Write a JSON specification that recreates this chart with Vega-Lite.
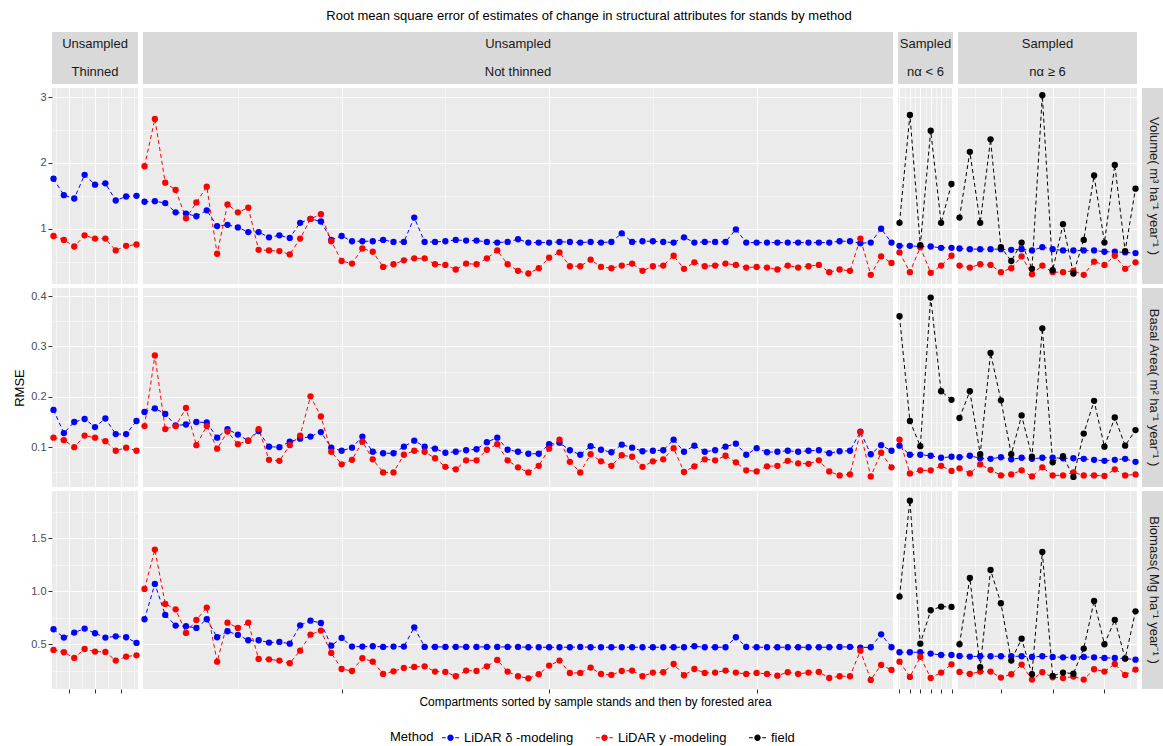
{
"$schema":"https://vega.github.io/schema/vega-lite/v6.json",
"padding":{"left":13,"top":10,"right":0,"bottom":0},
"title":{"text":"Root mean square error of estimates of change in structural attributes for stands by method","anchor":"middle","fontSize":13,"fontWeight":"normal","offset":9,"color":"#000000"},
"datasets":{
"VT":[{"i":1,"d":1.76,"y":0.89},{"i":2,"d":1.51,"y":0.83},{"i":3,"d":1.46,"y":0.73},{"i":4,"d":1.82,"y":0.90},{"i":5,"d":1.67,"y":0.85},{"i":6,"d":1.69,"y":0.85},{"i":7,"d":1.43,"y":0.67},{"i":8,"d":1.49,"y":0.74},{"i":9,"d":1.50,"y":0.76}],
"VN":[{"i":1,"d":1.41,"y":1.95},{"i":2,"d":1.42,"y":2.67},{"i":3,"d":1.39,"y":1.70},{"i":4,"d":1.25,"y":1.59},{"i":5,"d":1.23,"y":1.16},{"i":6,"d":1.19,"y":1.40},{"i":7,"d":1.28,"y":1.64},{"i":8,"d":1.04,"y":0.62},{"i":9,"d":1.06,"y":1.37},{"i":10,"d":1.02,"y":1.25},{"i":11,"d":0.95,"y":1.32},{"i":12,"d":0.95,"y":0.68},{"i":13,"d":0.87,"y":0.67},{"i":14,"d":0.90,"y":0.66},{"i":15,"d":0.86,"y":0.61},{"i":16,"d":1.09,"y":0.85},{"i":17,"d":1.15,"y":1.15},{"i":18,"d":1.11,"y":1.22},{"i":19,"d":0.83,"y":0.81},{"i":20,"d":0.89,"y":0.51},{"i":21,"d":0.81,"y":0.47},{"i":22,"d":0.81,"y":0.70},{"i":23,"d":0.81,"y":0.65},{"i":24,"d":0.83,"y":0.42},{"i":25,"d":0.80,"y":0.46},{"i":26,"d":0.80,"y":0.52},{"i":27,"d":1.17,"y":0.55},{"i":28,"d":0.80,"y":0.55},{"i":29,"d":0.80,"y":0.46},{"i":30,"d":0.81,"y":0.45},{"i":31,"d":0.83,"y":0.38},{"i":32,"d":0.82,"y":0.47},{"i":33,"d":0.82,"y":0.46},{"i":34,"d":0.80,"y":0.55},{"i":35,"d":0.79,"y":0.67},{"i":36,"d":0.80,"y":0.46},{"i":37,"d":0.84,"y":0.36},{"i":38,"d":0.79,"y":0.32},{"i":39,"d":0.79,"y":0.40},{"i":40,"d":0.79,"y":0.56},{"i":41,"d":0.80,"y":0.64},{"i":42,"d":0.80,"y":0.43},{"i":43,"d":0.79,"y":0.43},{"i":44,"d":0.80,"y":0.53},{"i":45,"d":0.79,"y":0.42},{"i":46,"d":0.80,"y":0.40},{"i":47,"d":0.93,"y":0.44},{"i":48,"d":0.80,"y":0.47},{"i":49,"d":0.81,"y":0.36},{"i":50,"d":0.81,"y":0.43},{"i":51,"d":0.80,"y":0.44},{"i":52,"d":0.79,"y":0.59},{"i":53,"d":0.87,"y":0.39},{"i":54,"d":0.79,"y":0.49},{"i":55,"d":0.80,"y":0.43},{"i":56,"d":0.80,"y":0.44},{"i":57,"d":0.80,"y":0.47},{"i":58,"d":0.99,"y":0.45},{"i":59,"d":0.79,"y":0.41},{"i":60,"d":0.79,"y":0.42},{"i":61,"d":0.79,"y":0.41},{"i":62,"d":0.79,"y":0.38},{"i":63,"d":0.79,"y":0.44},{"i":64,"d":0.79,"y":0.41},{"i":65,"d":0.79,"y":0.43},{"i":66,"d":0.79,"y":0.45},{"i":67,"d":0.79,"y":0.34},{"i":68,"d":0.81,"y":0.38},{"i":69,"d":0.81,"y":0.36},{"i":70,"d":0.78,"y":0.85},{"i":71,"d":0.79,"y":0.30},{"i":72,"d":1.00,"y":0.58},{"i":73,"d":0.79,"y":0.48}],
"VS":[{"i":1,"d":0.74,"y":0.64,"f":1.09},{"i":2,"d":0.74,"y":0.34,"f":2.73},{"i":3,"d":0.73,"y":0.72,"f":0.75},{"i":4,"d":0.73,"y":0.33,"f":2.49},{"i":5,"d":0.71,"y":0.44,"f":1.09},{"i":6,"d":0.71,"y":0.59,"f":1.68}],
"VL":[{"i":1,"d":0.70,"y":0.44,"f":1.17},{"i":2,"d":0.69,"y":0.41,"f":2.17},{"i":3,"d":0.69,"y":0.46,"f":1.09},{"i":4,"d":0.69,"y":0.45,"f":2.36},{"i":5,"d":0.69,"y":0.34,"f":0.72},{"i":6,"d":0.68,"y":0.40,"f":0.51},{"i":7,"d":0.69,"y":0.58,"f":0.79},{"i":8,"d":0.67,"y":0.31,"f":0.39},{"i":9,"d":0.72,"y":0.44,"f":3.03},{"i":10,"d":0.69,"y":0.34,"f":0.37},{"i":11,"d":0.67,"y":0.34,"f":1.07},{"i":12,"d":0.67,"y":0.36,"f":0.32},{"i":13,"d":0.67,"y":0.30,"f":0.83},{"i":14,"d":0.67,"y":0.50,"f":1.81},{"i":15,"d":0.65,"y":0.45,"f":0.79},{"i":16,"d":0.65,"y":0.59,"f":1.97},{"i":17,"d":0.64,"y":0.39,"f":0.66},{"i":18,"d":0.63,"y":0.49,"f":1.61}],
"BT":[{"i":1,"d":0.174,"y":0.119},{"i":2,"d":0.128,"y":0.114},{"i":3,"d":0.150,"y":0.100},{"i":4,"d":0.156,"y":0.123},{"i":5,"d":0.140,"y":0.119},{"i":6,"d":0.157,"y":0.112},{"i":7,"d":0.126,"y":0.093},{"i":8,"d":0.126,"y":0.099},{"i":9,"d":0.152,"y":0.093}],
"BN":[{"i":1,"d":0.170,"y":0.142},{"i":2,"d":0.177,"y":0.282},{"i":3,"d":0.166,"y":0.136},{"i":4,"d":0.143,"y":0.142},{"i":5,"d":0.145,"y":0.178},{"i":6,"d":0.150,"y":0.104},{"i":7,"d":0.149,"y":0.142},{"i":8,"d":0.119,"y":0.097},{"i":9,"d":0.136,"y":0.131},{"i":10,"d":0.125,"y":0.106},{"i":11,"d":0.113,"y":0.113},{"i":12,"d":0.132,"y":0.136},{"i":13,"d":0.101,"y":0.075},{"i":14,"d":0.100,"y":0.073},{"i":15,"d":0.111,"y":0.104},{"i":16,"d":0.117,"y":0.123},{"i":17,"d":0.121,"y":0.201},{"i":18,"d":0.130,"y":0.161},{"i":19,"d":0.099,"y":0.091},{"i":20,"d":0.093,"y":0.066},{"i":21,"d":0.099,"y":0.075},{"i":22,"d":0.121,"y":0.111},{"i":23,"d":0.091,"y":0.076},{"i":24,"d":0.088,"y":0.050},{"i":25,"d":0.088,"y":0.050},{"i":26,"d":0.101,"y":0.085},{"i":27,"d":0.113,"y":0.093},{"i":28,"d":0.101,"y":0.091},{"i":29,"d":0.097,"y":0.078},{"i":30,"d":0.089,"y":0.061},{"i":31,"d":0.091,"y":0.056},{"i":32,"d":0.094,"y":0.074},{"i":33,"d":0.096,"y":0.074},{"i":34,"d":0.110,"y":0.095},{"i":35,"d":0.119,"y":0.106},{"i":36,"d":0.095,"y":0.074},{"i":37,"d":0.091,"y":0.060},{"i":38,"d":0.087,"y":0.050},{"i":39,"d":0.087,"y":0.063},{"i":40,"d":0.106,"y":0.097},{"i":41,"d":0.109,"y":0.115},{"i":42,"d":0.094,"y":0.071},{"i":43,"d":0.085,"y":0.050},{"i":44,"d":0.102,"y":0.086},{"i":45,"d":0.095,"y":0.072},{"i":46,"d":0.090,"y":0.063},{"i":47,"d":0.105,"y":0.084},{"i":48,"d":0.099,"y":0.081},{"i":49,"d":0.092,"y":0.061},{"i":50,"d":0.093,"y":0.072},{"i":51,"d":0.094,"y":0.076},{"i":52,"d":0.115,"y":0.098},{"i":53,"d":0.091,"y":0.051},{"i":54,"d":0.103,"y":0.062},{"i":55,"d":0.091,"y":0.076},{"i":56,"d":0.094,"y":0.074},{"i":57,"d":0.101,"y":0.083},{"i":58,"d":0.107,"y":0.070},{"i":59,"d":0.085,"y":0.054},{"i":60,"d":0.098,"y":0.052},{"i":61,"d":0.090,"y":0.062},{"i":62,"d":0.091,"y":0.063},{"i":63,"d":0.093,"y":0.073},{"i":64,"d":0.091,"y":0.068},{"i":65,"d":0.093,"y":0.067},{"i":66,"d":0.094,"y":0.074},{"i":67,"d":0.088,"y":0.052},{"i":68,"d":0.092,"y":0.044},{"i":69,"d":0.093,"y":0.046},{"i":70,"d":0.131,"y":0.130},{"i":71,"d":0.086,"y":0.042},{"i":72,"d":0.104,"y":0.089},{"i":73,"d":0.093,"y":0.060}],
"BS":[{"i":1,"d":0.103,"y":0.115,"f":0.360},{"i":2,"d":0.085,"y":0.048,"f":0.152},{"i":3,"d":0.085,"y":0.054,"f":0.102},{"i":4,"d":0.083,"y":0.054,"f":0.397},{"i":5,"d":0.079,"y":0.063,"f":0.211},{"i":6,"d":0.081,"y":0.053,"f":0.194}],
"BL":[{"i":1,"d":0.080,"y":0.058,"f":0.158},{"i":2,"d":0.083,"y":0.048,"f":0.211},{"i":3,"d":0.078,"y":0.066,"f":0.086},{"i":4,"d":0.077,"y":0.055,"f":0.287},{"i":5,"d":0.080,"y":0.044,"f":0.193},{"i":6,"d":0.076,"y":0.046,"f":0.086},{"i":7,"d":0.079,"y":0.054,"f":0.163},{"i":8,"d":0.077,"y":0.042,"f":0.081},{"i":9,"d":0.079,"y":0.060,"f":0.336},{"i":10,"d":0.079,"y":0.044,"f":0.070},{"i":11,"d":0.078,"y":0.044,"f":0.082},{"i":12,"d":0.078,"y":0.050,"f":0.041},{"i":13,"d":0.077,"y":0.044,"f":0.127},{"i":14,"d":0.075,"y":0.044,"f":0.192},{"i":15,"d":0.073,"y":0.043,"f":0.101},{"i":16,"d":0.075,"y":0.056,"f":0.159},{"i":17,"d":0.077,"y":0.044,"f":0.103},{"i":18,"d":0.071,"y":0.046,"f":0.134}],
"MT":[{"i":1,"d":0.642,"y":0.447},{"i":2,"d":0.563,"y":0.425},{"i":3,"d":0.610,"y":0.371},{"i":4,"d":0.648,"y":0.456},{"i":5,"d":0.604,"y":0.431},{"i":6,"d":0.563,"y":0.428},{"i":7,"d":0.575,"y":0.346},{"i":8,"d":0.566,"y":0.384},{"i":9,"d":0.513,"y":0.396}],
"MN":[{"i":1,"d":0.736,"y":1.022},{"i":2,"d":1.069,"y":1.393},{"i":3,"d":0.777,"y":0.881},{"i":4,"d":0.676,"y":0.830},{"i":5,"d":0.670,"y":0.607},{"i":6,"d":0.654,"y":0.730},{"i":7,"d":0.736,"y":0.846},{"i":8,"d":0.566,"y":0.336},{"i":9,"d":0.623,"y":0.704},{"i":10,"d":0.588,"y":0.654},{"i":11,"d":0.538,"y":0.704},{"i":12,"d":0.538,"y":0.362},{"i":13,"d":0.516,"y":0.358},{"i":14,"d":0.522,"y":0.346},{"i":15,"d":0.506,"y":0.321},{"i":16,"d":0.679,"y":0.440},{"i":17,"d":0.723,"y":0.591},{"i":18,"d":0.701,"y":0.629},{"i":19,"d":0.487,"y":0.418},{"i":20,"d":0.560,"y":0.267},{"i":21,"d":0.478,"y":0.248},{"i":22,"d":0.478,"y":0.368},{"i":23,"d":0.481,"y":0.336},{"i":24,"d":0.475,"y":0.220},{"i":25,"d":0.478,"y":0.245},{"i":26,"d":0.478,"y":0.277},{"i":27,"d":0.660,"y":0.286},{"i":28,"d":0.475,"y":0.292},{"i":29,"d":0.475,"y":0.242},{"i":30,"d":0.475,"y":0.239},{"i":31,"d":0.475,"y":0.198},{"i":32,"d":0.475,"y":0.252},{"i":33,"d":0.475,"y":0.248},{"i":34,"d":0.475,"y":0.292},{"i":35,"d":0.475,"y":0.352},{"i":36,"d":0.475,"y":0.242},{"i":37,"d":0.475,"y":0.198},{"i":38,"d":0.472,"y":0.179},{"i":39,"d":0.472,"y":0.217},{"i":40,"d":0.472,"y":0.299},{"i":41,"d":0.472,"y":0.346},{"i":42,"d":0.472,"y":0.230},{"i":43,"d":0.475,"y":0.230},{"i":44,"d":0.472,"y":0.280},{"i":45,"d":0.472,"y":0.220},{"i":46,"d":0.472,"y":0.211},{"i":47,"d":0.472,"y":0.248},{"i":48,"d":0.472,"y":0.252},{"i":49,"d":0.472,"y":0.198},{"i":50,"d":0.472,"y":0.233},{"i":51,"d":0.472,"y":0.236},{"i":52,"d":0.472,"y":0.314},{"i":53,"d":0.472,"y":0.208},{"i":54,"d":0.481,"y":0.267},{"i":55,"d":0.472,"y":0.230},{"i":56,"d":0.472,"y":0.233},{"i":57,"d":0.472,"y":0.252},{"i":58,"d":0.566,"y":0.233},{"i":59,"d":0.475,"y":0.220},{"i":60,"d":0.472,"y":0.230},{"i":61,"d":0.472,"y":0.220},{"i":62,"d":0.472,"y":0.204},{"i":63,"d":0.472,"y":0.236},{"i":64,"d":0.472,"y":0.220},{"i":65,"d":0.472,"y":0.233},{"i":66,"d":0.472,"y":0.239},{"i":67,"d":0.472,"y":0.182},{"i":68,"d":0.475,"y":0.198},{"i":69,"d":0.475,"y":0.198},{"i":70,"d":0.469,"y":0.440},{"i":71,"d":0.472,"y":0.164},{"i":72,"d":0.594,"y":0.305},{"i":73,"d":0.472,"y":0.258}],
"MS":[{"i":1,"d":0.425,"y":0.336,"f":0.950},{"i":2,"d":0.425,"y":0.192,"f":1.855},{"i":3,"d":0.425,"y":0.381,"f":0.506},{"i":4,"d":0.412,"y":0.182,"f":0.821},{"i":5,"d":0.399,"y":0.233,"f":0.855},{"i":6,"d":0.399,"y":0.311,"f":0.852}],
"ML":[{"i":1,"d":0.390,"y":0.239,"f":0.500},{"i":2,"d":0.384,"y":0.220,"f":1.126},{"i":3,"d":0.387,"y":0.242,"f":0.283},{"i":4,"d":0.387,"y":0.242,"f":1.201},{"i":5,"d":0.387,"y":0.186,"f":0.887},{"i":6,"d":0.387,"y":0.217,"f":0.346},{"i":7,"d":0.387,"y":0.308,"f":0.553},{"i":8,"d":0.381,"y":0.167,"f":0.217},{"i":9,"d":0.387,"y":0.236,"f":1.371},{"i":10,"d":0.381,"y":0.189,"f":0.201},{"i":11,"d":0.377,"y":0.182,"f":0.233},{"i":12,"d":0.377,"y":0.195,"f":0.223},{"i":13,"d":0.381,"y":0.167,"f":0.459},{"i":14,"d":0.377,"y":0.264,"f":0.909},{"i":15,"d":0.371,"y":0.242,"f":0.500},{"i":16,"d":0.371,"y":0.314,"f":0.730},{"i":17,"d":0.365,"y":0.211,"f":0.365},{"i":18,"d":0.355,"y":0.261,"f":0.811}]
},
"spacing":4,
"resolve":{"scale":{"x":"independent","y":"independent","color":"shared"}},
"vconcat":[
{"spacing":5,"bounds":"flush","hconcat":[
{"width":86,"height":52,"view":{"fill":"#d9d9d9","stroke":null},"data":{"values":[{"t":"Unsampled\nThinned"}]},"mark":{"type":"text","lineBreak":"\n","lineHeight":28,"dy":-14,"fontSize":13,"color":"#1a1a1a"},"encoding":{"text":{"field":"t"}}},
{"width":750,"height":52,"view":{"fill":"#d9d9d9","stroke":null},"data":{"values":[{"t":"Unsampled\nNot thinned"}]},"mark":{"type":"text","lineBreak":"\n","lineHeight":28,"dy":-14,"fontSize":13,"color":"#1a1a1a"},"encoding":{"text":{"field":"t"}}},
{"width":55,"height":52,"view":{"fill":"#d9d9d9","stroke":null},"data":{"values":[{"t":"Sampled\nnα < 6"}]},"mark":{"type":"text","lineBreak":"\n","lineHeight":28,"dy":-14,"fontSize":13,"color":"#1a1a1a"},"encoding":{"text":{"field":"t"}}},
{"width":179,"height":52,"view":{"fill":"#d9d9d9","stroke":null},"data":{"values":[{"t":"Sampled\nnα ≥ 6"}]},"mark":{"type":"text","lineBreak":"\n","lineHeight":28,"dy":-14,"fontSize":13,"color":"#1a1a1a"},"encoding":{"text":{"field":"t"}}}
]},
{"spacing":5,"bounds":"flush","resolve":{"scale":{"x":"independent","y":"independent","color":"shared"}},"hconcat":[
{"width":86,"height":196,"data":{"name":"VT"},"transform":[{"fold":["d","y","f"],"as":["m","v"]},{"filter":"isValid(datum.v)"}],
"encoding":{"x":{"field":"i","type":"quantitative","scale":{"domain":[1,9],"nice":false,"zero":false,"padding":1.5},"axis":{"values":[1.25,2.5,3.75,5,6.25,7.5,8.75],"labels":false,"ticks":false,"title":null,"grid":true,"gridWidth":{"condition":{"test":"datum.value % 2.5 == 0","value":1.1},"value":0.5}}},
"y":{"field":"v","type":"quantitative","scale":{"domain":[0.16,3.14],"nice":false,"zero":false},"axis":{"values":[0.5,1,1.5,2,2.5,3],"labelExpr":"datum.value % 1 == 0 ? format(datum.value, 'd') : ''","title":null,"grid":true,"minExtent":22,"maxExtent":22,"labelPadding":2,"gridWidth":{"condition":{"test":"datum.value % 1 == 0","value":1.1},"value":0.5},"tickOpacity":{"condition":{"test":"datum.value % 1 == 0","value":1},"value":0}}},
"color":{"field":"m","type":"nominal","scale":{"domain":["d","y","f"],"range":["#0000ff","#ff0000","#000000"]},"legend":{"title":"Method","labelExpr":"datum.label == 'd' ? 'LiDAR δ -modeling' : datum.label == 'y' ? 'LiDAR y -modeling' : 'field'"}}},
"layer":[{"mark":{"type":"line","strokeDash":[4,3],"strokeWidth":1}},{"mark":{"type":"point","filled":true,"size":40,"opacity":1}}]},
{"width":750,"height":196,"data":{"name":"VN"},"transform":[{"fold":["d","y","f"],"as":["m","v"]},{"filter":"isValid(datum.v)"}],
"encoding":{"x":{"field":"i","type":"quantitative","scale":{"domain":[1,73],"nice":false,"zero":false,"padding":1.5},"axis":{"values":[10,20,30,40,50,60,70],"labels":false,"ticks":false,"title":null,"grid":true,"gridWidth":{"condition":{"test":"datum.value % 20 == 0","value":1.1},"value":0.5}}},
"y":{"field":"v","type":"quantitative","scale":{"domain":[0.16,3.14],"nice":false,"zero":false},"axis":{"values":[0.5,1,1.5,2,2.5,3],"labels":false,"ticks":false,"title":null,"grid":true,"minExtent":0,"maxExtent":0,"gridWidth":{"condition":{"test":"datum.value % 1 == 0","value":1.1},"value":0.5}}},
"color":{"field":"m","type":"nominal","scale":{"domain":["d","y","f"],"range":["#0000ff","#ff0000","#000000"]},"legend":{"title":"Method","labelExpr":"datum.label == 'd' ? 'LiDAR δ -modeling' : datum.label == 'y' ? 'LiDAR y -modeling' : 'field'"}}},
"layer":[{"mark":{"type":"line","strokeDash":[4,3],"strokeWidth":1}},{"mark":{"type":"point","filled":true,"size":40,"opacity":1}}]},
{"width":55,"height":196,"data":{"name":"VS"},"transform":[{"fold":["d","y","f"],"as":["m","v"]},{"filter":"isValid(datum.v)"}],
"encoding":{"x":{"field":"i","type":"quantitative","scale":{"domain":[1,6],"nice":false,"zero":false,"padding":1.5},"axis":{"values":[1,1.5,2,2.5,3,3.5,4,4.5,5,5.5,6],"labels":false,"ticks":false,"title":null,"grid":true,"gridWidth":{"condition":{"test":"datum.value % 1 == 0","value":1.1},"value":0.5}}},
"y":{"field":"v","type":"quantitative","scale":{"domain":[0.16,3.14],"nice":false,"zero":false},"axis":{"values":[0.5,1,1.5,2,2.5,3],"labels":false,"ticks":false,"title":null,"grid":true,"minExtent":0,"maxExtent":0,"gridWidth":{"condition":{"test":"datum.value % 1 == 0","value":1.1},"value":0.5}}},
"color":{"field":"m","type":"nominal","scale":{"domain":["d","y","f"],"range":["#0000ff","#ff0000","#000000"]},"legend":{"title":"Method","labelExpr":"datum.label == 'd' ? 'LiDAR δ -modeling' : datum.label == 'y' ? 'LiDAR y -modeling' : 'field'"}}},
"layer":[{"mark":{"type":"line","strokeDash":[4,3],"strokeWidth":1}},{"mark":{"type":"point","filled":true,"size":40,"opacity":1}}]},
{"width":179,"height":196,"data":{"name":"VL"},"transform":[{"fold":["d","y","f"],"as":["m","v"]},{"filter":"isValid(datum.v)"}],
"encoding":{"x":{"field":"i","type":"quantitative","scale":{"domain":[1,18],"nice":false,"zero":false,"padding":1.5},"axis":{"values":[2.5,5,7.5,10,12.5,15,17.5],"labels":false,"ticks":false,"title":null,"grid":true,"gridWidth":{"condition":{"test":"datum.value % 5 == 0","value":1.1},"value":0.5}}},
"y":{"field":"v","type":"quantitative","scale":{"domain":[0.16,3.14],"nice":false,"zero":false},"axis":{"values":[0.5,1,1.5,2,2.5,3],"labels":false,"ticks":false,"title":null,"grid":true,"minExtent":0,"maxExtent":0,"gridWidth":{"condition":{"test":"datum.value % 1 == 0","value":1.1},"value":0.5}}},
"color":{"field":"m","type":"nominal","scale":{"domain":["d","y","f"],"range":["#0000ff","#ff0000","#000000"]},"legend":{"title":"Method","labelExpr":"datum.label == 'd' ? 'LiDAR δ -modeling' : datum.label == 'y' ? 'LiDAR y -modeling' : 'field'"}}},
"layer":[{"mark":{"type":"line","strokeDash":[4,3],"strokeWidth":1}},{"mark":{"type":"point","filled":true,"size":40,"opacity":1}}]},
{"width":23,"height":196,"view":{"fill":"#d9d9d9","stroke":null},"data":{"values":[{"t":"Volume( m³ ha⁻¹ year⁻¹ )"}]},"mark":{"type":"text","angle":90,"fontSize":13,"color":"#1a1a1a"},"encoding":{"text":{"field":"t"}}}
]},
{"spacing":5,"bounds":"flush","resolve":{"scale":{"x":"independent","y":"independent","color":"shared"}},"hconcat":[
{"width":86,"height":199,"data":{"name":"BT"},"transform":[{"fold":["d","y","f"],"as":["m","v"]},{"filter":"isValid(datum.v)"}],
"encoding":{"x":{"field":"i","type":"quantitative","scale":{"domain":[1,9],"nice":false,"zero":false,"padding":1.5},"axis":{"values":[1.25,2.5,3.75,5,6.25,7.5,8.75],"labels":false,"ticks":false,"title":null,"grid":true,"gridWidth":{"condition":{"test":"datum.value % 2.5 == 0","value":1.1},"value":0.5}}},
"y":{"field":"v","type":"quantitative","scale":{"domain":[0.021,0.416],"nice":false,"zero":false},"axis":{"values":[0.05,0.1,0.15,0.2,0.25,0.3,0.35,0.4],"labelExpr":"round(datum.value*100) % 10 == 0 ? format(datum.value, '.1f') : ''","title":"RMSE","titlePadding":4,"grid":true,"minExtent":22,"maxExtent":22,"labelPadding":2,"gridWidth":{"condition":{"test":"round(datum.value*100) % 10 == 0","value":1.1},"value":0.5},"tickOpacity":{"condition":{"test":"round(datum.value*100) % 10 == 0","value":1},"value":0}}},
"color":{"field":"m","type":"nominal","scale":{"domain":["d","y","f"],"range":["#0000ff","#ff0000","#000000"]},"legend":{"title":"Method","labelExpr":"datum.label == 'd' ? 'LiDAR δ -modeling' : datum.label == 'y' ? 'LiDAR y -modeling' : 'field'"}}},
"layer":[{"mark":{"type":"line","strokeDash":[4,3],"strokeWidth":1}},{"mark":{"type":"point","filled":true,"size":40,"opacity":1}}]},
{"width":750,"height":199,"data":{"name":"BN"},"transform":[{"fold":["d","y","f"],"as":["m","v"]},{"filter":"isValid(datum.v)"}],
"encoding":{"x":{"field":"i","type":"quantitative","scale":{"domain":[1,73],"nice":false,"zero":false,"padding":1.5},"axis":{"values":[10,20,30,40,50,60,70],"labels":false,"ticks":false,"title":null,"grid":true,"gridWidth":{"condition":{"test":"datum.value % 20 == 0","value":1.1},"value":0.5}}},
"y":{"field":"v","type":"quantitative","scale":{"domain":[0.021,0.416],"nice":false,"zero":false},"axis":{"values":[0.05,0.1,0.15,0.2,0.25,0.3,0.35,0.4],"labels":false,"ticks":false,"title":null,"grid":true,"minExtent":0,"maxExtent":0,"gridWidth":{"condition":{"test":"round(datum.value*100) % 10 == 0","value":1.1},"value":0.5}}},
"color":{"field":"m","type":"nominal","scale":{"domain":["d","y","f"],"range":["#0000ff","#ff0000","#000000"]},"legend":{"title":"Method","labelExpr":"datum.label == 'd' ? 'LiDAR δ -modeling' : datum.label == 'y' ? 'LiDAR y -modeling' : 'field'"}}},
"layer":[{"mark":{"type":"line","strokeDash":[4,3],"strokeWidth":1}},{"mark":{"type":"point","filled":true,"size":40,"opacity":1}}]},
{"width":55,"height":199,"data":{"name":"BS"},"transform":[{"fold":["d","y","f"],"as":["m","v"]},{"filter":"isValid(datum.v)"}],
"encoding":{"x":{"field":"i","type":"quantitative","scale":{"domain":[1,6],"nice":false,"zero":false,"padding":1.5},"axis":{"values":[1,1.5,2,2.5,3,3.5,4,4.5,5,5.5,6],"labels":false,"ticks":false,"title":null,"grid":true,"gridWidth":{"condition":{"test":"datum.value % 1 == 0","value":1.1},"value":0.5}}},
"y":{"field":"v","type":"quantitative","scale":{"domain":[0.021,0.416],"nice":false,"zero":false},"axis":{"values":[0.05,0.1,0.15,0.2,0.25,0.3,0.35,0.4],"labels":false,"ticks":false,"title":null,"grid":true,"minExtent":0,"maxExtent":0,"gridWidth":{"condition":{"test":"round(datum.value*100) % 10 == 0","value":1.1},"value":0.5}}},
"color":{"field":"m","type":"nominal","scale":{"domain":["d","y","f"],"range":["#0000ff","#ff0000","#000000"]},"legend":{"title":"Method","labelExpr":"datum.label == 'd' ? 'LiDAR δ -modeling' : datum.label == 'y' ? 'LiDAR y -modeling' : 'field'"}}},
"layer":[{"mark":{"type":"line","strokeDash":[4,3],"strokeWidth":1}},{"mark":{"type":"point","filled":true,"size":40,"opacity":1}}]},
{"width":179,"height":199,"data":{"name":"BL"},"transform":[{"fold":["d","y","f"],"as":["m","v"]},{"filter":"isValid(datum.v)"}],
"encoding":{"x":{"field":"i","type":"quantitative","scale":{"domain":[1,18],"nice":false,"zero":false,"padding":1.5},"axis":{"values":[2.5,5,7.5,10,12.5,15,17.5],"labels":false,"ticks":false,"title":null,"grid":true,"gridWidth":{"condition":{"test":"datum.value % 5 == 0","value":1.1},"value":0.5}}},
"y":{"field":"v","type":"quantitative","scale":{"domain":[0.021,0.416],"nice":false,"zero":false},"axis":{"values":[0.05,0.1,0.15,0.2,0.25,0.3,0.35,0.4],"labels":false,"ticks":false,"title":null,"grid":true,"minExtent":0,"maxExtent":0,"gridWidth":{"condition":{"test":"round(datum.value*100) % 10 == 0","value":1.1},"value":0.5}}},
"color":{"field":"m","type":"nominal","scale":{"domain":["d","y","f"],"range":["#0000ff","#ff0000","#000000"]},"legend":{"title":"Method","labelExpr":"datum.label == 'd' ? 'LiDAR δ -modeling' : datum.label == 'y' ? 'LiDAR y -modeling' : 'field'"}}},
"layer":[{"mark":{"type":"line","strokeDash":[4,3],"strokeWidth":1}},{"mark":{"type":"point","filled":true,"size":40,"opacity":1}}]},
{"width":23,"height":199,"view":{"fill":"#d9d9d9","stroke":null},"data":{"values":[{"t":"Basal Area( m² ha⁻¹ year⁻¹ )"}]},"mark":{"type":"text","angle":90,"fontSize":13,"color":"#1a1a1a"},"encoding":{"text":{"field":"t"}}}
]},
{"spacing":5,"bounds":"flush","resolve":{"scale":{"x":"independent","y":"independent","color":"shared"}},"hconcat":[
{"width":86,"height":198,"data":{"name":"MT"},"transform":[{"fold":["d","y","f"],"as":["m","v"]},{"filter":"isValid(datum.v)"}],
"encoding":{"x":{"field":"i","type":"quantitative","scale":{"domain":[1,9],"nice":false,"zero":false,"padding":1.5},"axis":{"values":[1.25,2.5,3.75,5,6.25,7.5,8.75],"labels":false,"title":null,"grid":true,"gridWidth":{"condition":{"test":"datum.value % 2.5 == 0","value":1.1},"value":0.5},"tickOpacity":{"condition":{"test":"datum.value % 2.5 == 0","value":1},"value":0}}},
"y":{"field":"v","type":"quantitative","scale":{"domain":[0.078,1.946],"nice":false,"zero":false},"axis":{"values":[0.25,0.5,0.75,1,1.25,1.5,1.75],"labelExpr":"datum.value % 0.5 == 0 ? format(datum.value, '.1f') : ''","title":null,"grid":true,"minExtent":22,"maxExtent":22,"labelPadding":2,"gridWidth":{"condition":{"test":"datum.value % 0.5 == 0","value":1.1},"value":0.5},"tickOpacity":{"condition":{"test":"datum.value % 0.5 == 0","value":1},"value":0}}},
"color":{"field":"m","type":"nominal","scale":{"domain":["d","y","f"],"range":["#0000ff","#ff0000","#000000"]},"legend":{"title":"Method","labelExpr":"datum.label == 'd' ? 'LiDAR δ -modeling' : datum.label == 'y' ? 'LiDAR y -modeling' : 'field'"}}},
"layer":[{"mark":{"type":"line","strokeDash":[4,3],"strokeWidth":1}},{"mark":{"type":"point","filled":true,"size":40,"opacity":1}}]},
{"width":750,"height":198,"data":{"name":"MN"},"transform":[{"fold":["d","y","f"],"as":["m","v"]},{"filter":"isValid(datum.v)"}],
"encoding":{"x":{"field":"i","type":"quantitative","scale":{"domain":[1,73],"nice":false,"zero":false,"padding":1.5},"axis":{"values":[10,20,30,40,50,60,70],"labels":false,"title":"Compartments sorted by sample stands and then by forested area","titleX":452,"titlePadding":3,"titleFontSize":12,"grid":true,"gridWidth":{"condition":{"test":"datum.value % 20 == 0","value":1.1},"value":0.5},"tickOpacity":{"condition":{"test":"datum.value % 20 == 0","value":1},"value":0}}},
"y":{"field":"v","type":"quantitative","scale":{"domain":[0.078,1.946],"nice":false,"zero":false},"axis":{"values":[0.25,0.5,0.75,1,1.25,1.5,1.75],"labels":false,"ticks":false,"title":null,"grid":true,"minExtent":0,"maxExtent":0,"gridWidth":{"condition":{"test":"datum.value % 0.5 == 0","value":1.1},"value":0.5}}},
"color":{"field":"m","type":"nominal","scale":{"domain":["d","y","f"],"range":["#0000ff","#ff0000","#000000"]},"legend":{"title":"Method","labelExpr":"datum.label == 'd' ? 'LiDAR δ -modeling' : datum.label == 'y' ? 'LiDAR y -modeling' : 'field'"}}},
"layer":[{"mark":{"type":"line","strokeDash":[4,3],"strokeWidth":1}},{"mark":{"type":"point","filled":true,"size":40,"opacity":1}}]},
{"width":55,"height":198,"data":{"name":"MS"},"transform":[{"fold":["d","y","f"],"as":["m","v"]},{"filter":"isValid(datum.v)"}],
"encoding":{"x":{"field":"i","type":"quantitative","scale":{"domain":[1,6],"nice":false,"zero":false,"padding":1.5},"axis":{"values":[1,1.5,2,2.5,3,3.5,4,4.5,5,5.5,6],"labels":false,"title":null,"grid":true,"gridWidth":{"condition":{"test":"datum.value % 1 == 0","value":1.1},"value":0.5},"tickOpacity":{"condition":{"test":"datum.value % 1 == 0","value":1},"value":0}}},
"y":{"field":"v","type":"quantitative","scale":{"domain":[0.078,1.946],"nice":false,"zero":false},"axis":{"values":[0.25,0.5,0.75,1,1.25,1.5,1.75],"labels":false,"ticks":false,"title":null,"grid":true,"minExtent":0,"maxExtent":0,"gridWidth":{"condition":{"test":"datum.value % 0.5 == 0","value":1.1},"value":0.5}}},
"color":{"field":"m","type":"nominal","scale":{"domain":["d","y","f"],"range":["#0000ff","#ff0000","#000000"]},"legend":{"title":"Method","labelExpr":"datum.label == 'd' ? 'LiDAR δ -modeling' : datum.label == 'y' ? 'LiDAR y -modeling' : 'field'"}}},
"layer":[{"mark":{"type":"line","strokeDash":[4,3],"strokeWidth":1}},{"mark":{"type":"point","filled":true,"size":40,"opacity":1}}]},
{"width":179,"height":198,"data":{"name":"ML"},"transform":[{"fold":["d","y","f"],"as":["m","v"]},{"filter":"isValid(datum.v)"}],
"encoding":{"x":{"field":"i","type":"quantitative","scale":{"domain":[1,18],"nice":false,"zero":false,"padding":1.5},"axis":{"values":[2.5,5,7.5,10,12.5,15,17.5],"labels":false,"title":null,"grid":true,"gridWidth":{"condition":{"test":"datum.value % 5 == 0","value":1.1},"value":0.5},"tickOpacity":{"condition":{"test":"datum.value % 5 == 0","value":1},"value":0}}},
"y":{"field":"v","type":"quantitative","scale":{"domain":[0.078,1.946],"nice":false,"zero":false},"axis":{"values":[0.25,0.5,0.75,1,1.25,1.5,1.75],"labels":false,"ticks":false,"title":null,"grid":true,"minExtent":0,"maxExtent":0,"gridWidth":{"condition":{"test":"datum.value % 0.5 == 0","value":1.1},"value":0.5}}},
"color":{"field":"m","type":"nominal","scale":{"domain":["d","y","f"],"range":["#0000ff","#ff0000","#000000"]},"legend":{"title":"Method","labelExpr":"datum.label == 'd' ? 'LiDAR δ -modeling' : datum.label == 'y' ? 'LiDAR y -modeling' : 'field'"}}},
"layer":[{"mark":{"type":"line","strokeDash":[4,3],"strokeWidth":1}},{"mark":{"type":"point","filled":true,"size":40,"opacity":1}}]},
{"width":23,"height":198,"view":{"fill":"#d9d9d9","stroke":null},"data":{"values":[{"t":"Biomass( Mg ha⁻¹ year⁻¹ )"}]},"mark":{"type":"text","angle":90,"fontSize":13,"color":"#1a1a1a"},"encoding":{"text":{"field":"t"}}}
]}
],
"config":{
"font":"Liberation Sans",
"view":{"fill":"#ebebeb","stroke":null},
"axis":{"gridColor":"#ffffff","domain":false,"labelColor":"#4d4d4d","labelFontSize":11,"tickColor":"#333333","tickSize":4,"tickWidth":1,"titleFontWeight":"normal","titleFontSize":13,"titleColor":"#000000"},
"legend":{"orient":"none","legendX":338,"legendY":697,"direction":"horizontal","titleOrient":"left","titleFontSize":13,"titleFontWeight":"normal","titleColor":"#000000","labelFontSize":13,"labelColor":"#000000","symbolType":"M-1,-0.07H-0.55V0.07H-1Z M0.55,-0.07H1V0.07H0.55Z M0.38,0A0.38,0.38,0,1,1,-0.38,0A0.38,0.38,0,1,1,0.38,0Z","symbolSize":289,"symbolStrokeWidth":0,"symbolOpacity":1,"columnPadding":22,"labelOffset":5,"titlePadding":8}
}
}
